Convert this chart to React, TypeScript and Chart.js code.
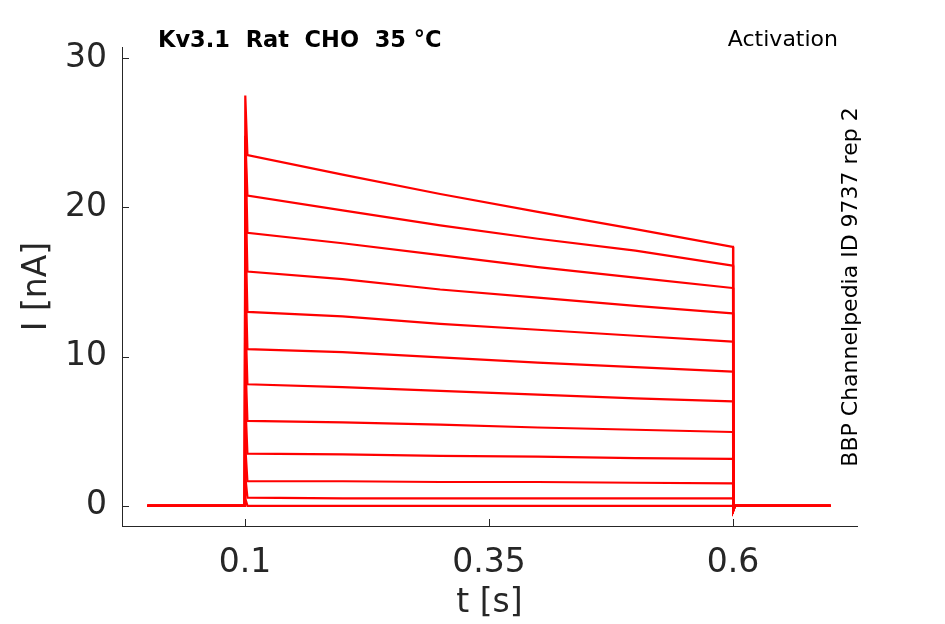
import React, { useEffect, useRef } from 'react';
import { Chart, registerables } from 'chart.js';

Chart.register(...registerables);

// sample times [s] shared by every sweep
const times = [0, 0.0998, 0.1, 0.1003, 0.1025, 0.2, 0.3, 0.4, 0.5, 0.5995, 0.6, 0.6003, 0.602, 0.7];

// current [nA] per sweep, read at the times above
const sweep1 = [0, 0, 0, 27.5, 23.5, 22.2, 20.9, 19.7, 18.55, 17.35, 17.35, -0.3, 0, 0];
const sweep2 = [0, 0, 0, 24.8, 20.8, 19.8, 18.8, 17.9, 17.1, 16.1, 16.1, -0.3, 0, 0];
const sweep3 = [0, 0, 0, 24.5, 18.3, 17.6, 16.8, 16.0, 15.3, 14.6, 14.6, -0.3, 0, 0];
const sweep4 = [0, 0, 0, 22.0, 15.7, 15.2, 14.5, 13.95, 13.4, 12.9, 12.9, -0.3, 0, 0];
const sweep5 = [0, 0, 0, 19.0, 13.0, 12.7, 12.2, 11.8, 11.4, 11.0, 11.0, -0.3, 0, 0];
const sweep6 = [0, 0, 0, 16.0, 10.5, 10.3, 9.95, 9.6, 9.3, 9.0, 9.0, -0.3, 0, 0];
const sweep7 = [0, 0, 0, 13.0, 8.15, 7.95, 7.7, 7.45, 7.2, 7.0, 7.0, -0.3, 0, 0];
const sweep8 = [0, 0, 0, 10.0, 5.7, 5.6, 5.45, 5.25, 5.1, 4.95, 4.95, -0.3, 0, 0];
const sweep9 = [0, 0, 0, 7.0, 3.5, 3.45, 3.35, 3.3, 3.2, 3.15, 3.15, -0.2, 0, 0];
const sweep10 = [0, 0, 0, 4.0, 1.65, 1.65, 1.6, 1.6, 1.55, 1.5, 1.5, -0.2, 0, 0];
const sweep11 = [0, 0, 0, 2.0, 0.55, 0.5, 0.5, 0.5, 0.5, 0.5, 0.5, -0.1, 0, 0];
const sweep12 = [0, 0, 0, 0.5, 0, 0, 0, 0, 0, 0, 0, 0, 0, 0];

const sweeps = [sweep1, sweep2, sweep3, sweep4, sweep5, sweep6, sweep7, sweep8, sweep9, sweep10, sweep11, sweep12];

const xTicks = [0.1, 0.35, 0.6];
const yTicks = [0, 10, 20, 30];

const AXIS_COLOR = '#262626';

const decorations = {
  id: 'decorations',
  afterDraw(chart: any) {
    const { ctx, chartArea, scales } = chart;
    ctx.save();
    // inward ticks
    ctx.strokeStyle = AXIS_COLOR;
    ctx.lineWidth = 1;
    ctx.beginPath();
    xTicks.forEach((t) => {
      const px = Math.round(scales.x.getPixelForValue(t)) + 0.5;
      ctx.moveTo(px, chartArea.bottom);
      ctx.lineTo(px, chartArea.bottom - 7);
    });
    yTicks.forEach((v) => {
      const py = Math.round(scales.y.getPixelForValue(v)) + 0.5;
      ctx.moveTo(chartArea.left, py);
      ctx.lineTo(chartArea.left + 7, py);
    });
    ctx.stroke();

    ctx.fillStyle = '#000';
    ctx.font = 'bold 22.5px "DejaVu Sans"';
    ctx.textAlign = 'left';
    ctx.textBaseline = 'alphabetic';
    ctx.fillText('Kv3.1  Rat  CHO  35 °C', 158, 47);

    ctx.font = '22px "DejaVu Sans"';
    ctx.textAlign = 'right';
    ctx.fillText('Activation', 838, 46);

    ctx.translate(857, 287);
    ctx.rotate(-Math.PI / 2);
    ctx.textAlign = 'center';
    ctx.fillText('BBP Channelpedia ID 9737 rep 2', 0, 0);
    ctx.restore();
  },
};

const App: React.FC = () => {
  const canvasRef = useRef<HTMLCanvasElement>(null);
  const chartRef = useRef<Chart | null>(null);

  useEffect(() => {
    if (!canvasRef.current) return;
    if (chartRef.current) chartRef.current.destroy();

    const tickFont = { family: '"DejaVu Sans"', size: 33 };

    chartRef.current = new Chart(canvasRef.current, {
      type: 'scatter',
      data: {
        datasets: sweeps.map((s, i) => ({
          label: `sweep ${i + 1}`,
          data: times.map((t, j) => ({ x: t, y: s[j] })),
          showLine: true,
          borderColor: '#ff0000',
          borderWidth: 2.2,
          pointRadius: 0,
          fill: false,
          tension: 0,
        })),
      },
      options: {
        responsive: false,
        animation: false,
        devicePixelRatio: 1,
        layout: { padding: { top: 47, right: 88, left: 0, bottom: 0 } },
        plugins: { legend: { display: false }, tooltip: { enabled: false } },
        scales: {
          x: {
            type: 'linear',
            min: -0.026,
            max: 0.727,
            afterBuildTicks: (scale: any) => {
              scale.ticks = xTicks.map((v) => ({ value: v }));
            },
            afterFit: (scale: any) => {
              scale.height = 98;
            },
            grid: { display: false, drawTicks: false },
            border: { display: true, color: AXIS_COLOR, width: 1 },
            ticks: { color: AXIS_COLOR, font: tickFont, padding: 18, maxRotation: 0, autoSkip: false, callback: (v: any) => String(v) },
            title: { display: true, text: 't [s]', color: AXIS_COLOR, font: tickFont, padding: { top: 0, bottom: 1 } },
          },
          y: {
            type: 'linear',
            min: -1.35,
            max: 30.75,
            afterBuildTicks: (scale: any) => {
              scale.ticks = yTicks.map((v) => ({ value: v }));
            },
            afterFit: (scale: any) => {
              scale.width = 122;
            },
            grid: { display: false, drawTicks: false },
            border: { display: true, color: AXIS_COLOR, width: 1 },
            ticks: { color: AXIS_COLOR, font: tickFont, padding: 15, autoSkip: false, callback: (v: any) => String(v) },
            title: { display: true, text: 'I [nA]', color: AXIS_COLOR, font: tickFont, padding: { top: 18, bottom: 0 } },
          },
        },
      },
      plugins: [decorations],
    });

    return () => {
      if (chartRef.current) {
        chartRef.current.destroy();
        chartRef.current = null;
      }
    };
  }, []);

  return (
    <div style={{ position: 'absolute', left: 0, top: 0, width: 945, height: 624, background: '#fff' }}>
      <canvas ref={canvasRef} width={945} height={624}></canvas>
    </div>
  );
};

export default App;
